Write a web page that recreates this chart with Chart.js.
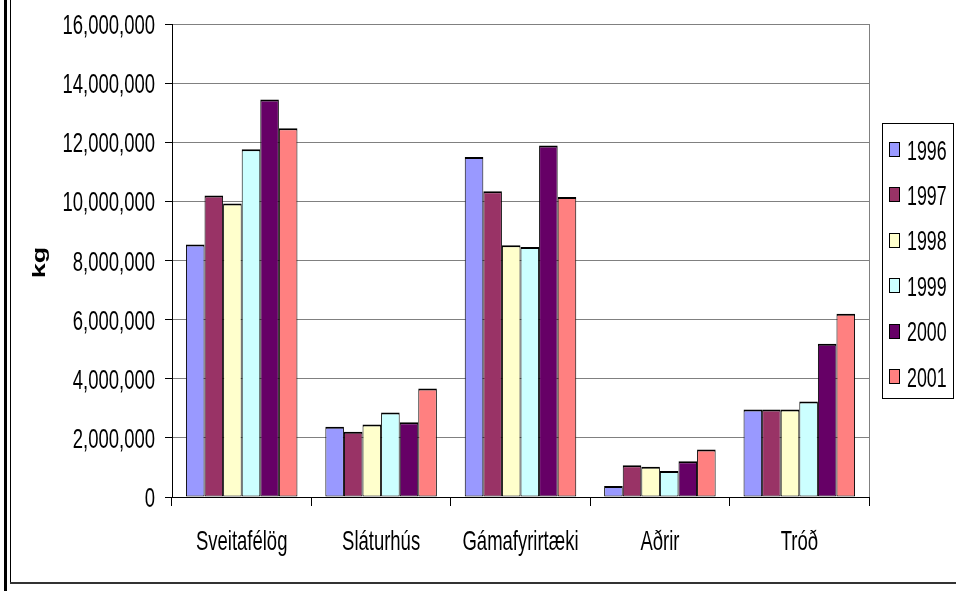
<!DOCTYPE html>
<html>
<head>
<meta charset="utf-8">
<script src="https://cdn.jsdelivr.net/npm/chart.js@4.4.0/dist/chart.umd.min.js"></script>
<style>
  body { margin: 0; background: #fff; }
</style>
</head>
<body>
<canvas id="chart" width="956" height="591"></canvas>
<script>
const categories = ['Sveitafélög', 'Sláturhús', 'Gámafyrirtæki', 'Aðrir', 'Tróð'];
const years = ['1996', '1997', '1998', '1999', '2000', '2001'];
const colors = ['#9999FF', '#993366', '#FFFFCC', '#CCFFFF', '#660066', '#FF8080'];

// kg per year
const v1996 = [8540000, 2380000, 11500000, 370000, 2960000];
const v1997 = [10200000, 2210000, 10340000, 1070000, 2960000];
const v1998 = [9930000, 2450000, 8520000, 1020000, 2960000];
const v1999 = [11760000, 2860000, 8460000, 880000, 3230000];
const v2000 = [13450000, 2530000, 11890000, 1210000, 5180000];
const v2001 = [12470000, 3670000, 10150000, 1610000, 6200000];
const series = [v1996, v1997, v1998, v1999, v2000, v2001];

const yMin = 0, yMax = 16000000, yStep = 2000000;

// the original text is horizontally squeezed, so labels are drawn with a scaled context
const SQ = 0.66;
const FONT = '28px "Liberation Sans", Arial, sans-serif';

function squished(ctx, text, x, y, align, font) {
  ctx.save();
  ctx.translate(x, y);
  ctx.scale(SQ, 1);
  ctx.font = font;
  ctx.fillStyle = '#000';
  ctx.textAlign = align;
  ctx.textBaseline = 'alphabetic';
  ctx.fillText(text, 0, 0);
  ctx.restore();
}

const framePlugin = {
  id: 'frame',
  beforeDraw(chart) {
    const ctx = chart.ctx;
    ctx.save();
    ctx.fillStyle = '#fff';
    ctx.fillRect(0, 0, chart.width, chart.height);
    ctx.restore();
  },
  afterDraw(chart) {
    const ctx = chart.ctx;
    const a = chart.chartArea;
    const xs = chart.scales.x, ys = chart.scales.y;
    ctx.save();
    // right edge of plot area
    ctx.strokeStyle = '#808080';
    ctx.lineWidth = 1;
    ctx.beginPath();
    ctx.moveTo(Math.round(a.right) + 0.5, a.top);
    ctx.lineTo(Math.round(a.right) + 0.5, a.bottom);
    ctx.stroke();

    // tick labels
    ys.ticks.forEach((t, i) => {
      squished(ctx, t.label, a.left - 17, ys.getPixelForTick(i) + 10, 'right', FONT);
    });
    xs.ticks.forEach((t, i) => {
      squished(ctx, t.label, xs.getPixelForTick(i), 550, 'center', FONT);
    });

    // axis title
    ctx.save();
    ctx.translate(45, (a.top + a.bottom) / 2 + 2);
    ctx.scale(SQ, 1);
    ctx.rotate(-Math.PI / 2);
    ctx.font = 'bold 27px "Liberation Sans", Arial, sans-serif';
    ctx.fillStyle = '#000';
    ctx.textAlign = 'center';
    ctx.textBaseline = 'alphabetic';
    ctx.fillText('kg', 0, 0);
    ctx.restore();

    // legend
    const lx = 882, ly = 123, lw = 71, lh = 275;
    ctx.strokeStyle = '#000';
    ctx.strokeRect(lx + 0.5, ly + 0.5, lw, lh);
    chart.data.datasets.forEach((ds, i) => {
      const cy = 150 + i * 45.4;
      ctx.fillStyle = ds.backgroundColor;
      ctx.fillRect(889, Math.round(cy - 8), 11, 15);
      ctx.strokeStyle = '#000';
      ctx.strokeRect(889.5, Math.round(cy - 8) + 0.5, 10, 14);
      squished(ctx, ds.label, 907, cy + 9.5, 'left', '27px "Liberation Sans", Arial, sans-serif');
    });

    // outer frame
    ctx.fillStyle = '#000';
    ctx.fillRect(4, 0, 3, chart.height);
    ctx.fillRect(10, 0, 1, 584);
    ctx.fillStyle = '#333';
    ctx.fillRect(10, 582, chart.width - 10, 2);
    ctx.restore();
  }
};

const ctx = document.getElementById('chart').getContext('2d');
new Chart(ctx, {
  type: 'bar',
  data: {
    labels: categories,
    datasets: years.map((y, i) => ({
      label: y,
      data: series[i],
      backgroundColor: colors[i],
      borderColor: '#000',
      borderWidth: { top: 2, left: 1, right: 1, bottom: 1 },
      borderSkipped: false,
      categoryPercentage: 0.8,
      barPercentage: 1.0
    }))
  },
  options: {
    responsive: false,
    animation: false,
    layout: { padding: { left: 0, right: 87, top: 24, bottom: 0 } },
    plugins: {
      legend: { display: false },
      tooltip: { enabled: false }
    },
    scales: {
      x: {
        afterFit(scale) { scale.height = 94; },
        grid: { display: true, drawOnChartArea: false, tickLength: 9, tickColor: '#000', offset: true },
        border: { color: '#000', width: 1 },
        ticks: { display: false, autoSkip: false }
      },
      y: {
        min: yMin,
        max: yMax,
        afterFit(scale) { scale.width = 172; },
        grid: { color: '#808080', tickLength: 7, tickColor: '#000' },
        border: { color: '#000', width: 1 },
        ticks: {
          display: false,
          stepSize: yStep,
          callback: v => v.toLocaleString('en-US')
        }
      }
    }
  },
  plugins: [framePlugin]
});
</script>
</body>
</html>
